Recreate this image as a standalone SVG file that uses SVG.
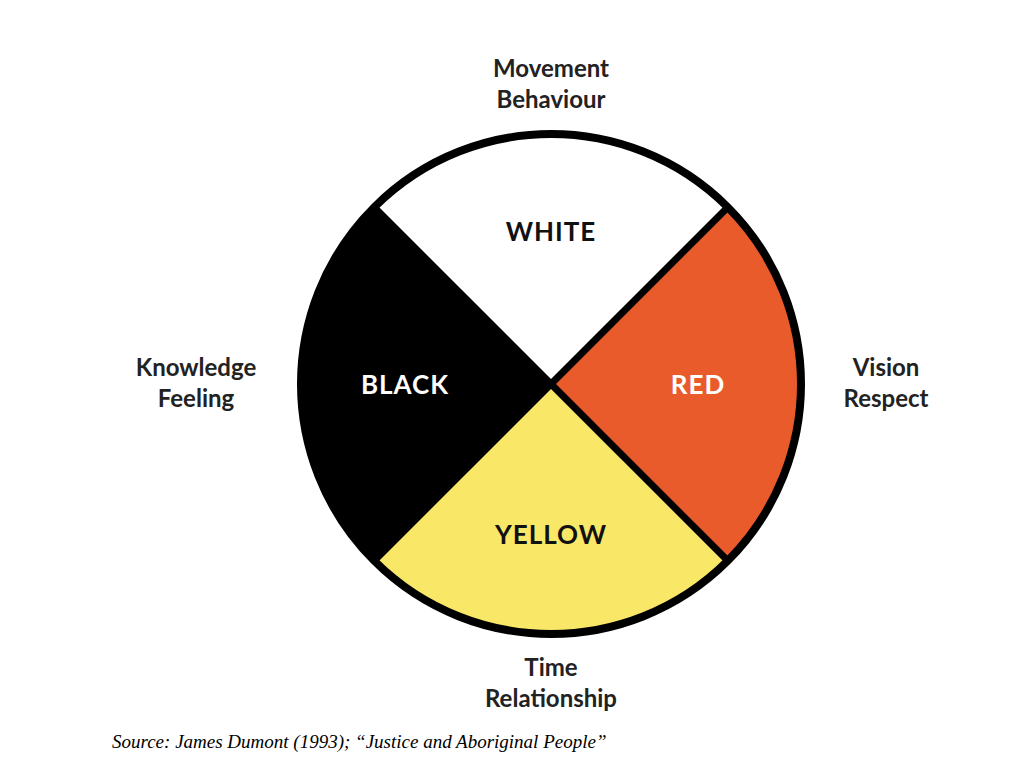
<svg xmlns="http://www.w3.org/2000/svg" width="1024" height="779" viewBox="0 0 1024 779">
<style>
.l{font-family:Lato,"Open Sans",sans-serif;font-weight:bold;font-size:24px;fill:#222;text-anchor:middle}
.q{font-family:Lato,"Open Sans",sans-serif;font-weight:bold;font-size:26px;text-anchor:middle;letter-spacing:1px}
.s{font-family:"Liberation Serif",serif;font-style:italic;font-size:19px;fill:#000}
</style>
<rect width="1024" height="779" fill="#fff"/>
<g id="wheel">
<g id="white"><path d="M551,384 L374.2,207.2 A250,250 0 0 1 727.8,207.2 Z" fill="#fff"/></g>
<g id="red"><path d="M551,384 L727.8,207.2 A250,250 0 0 1 727.8,560.8 Z" fill="#EA5B2C"/></g>
<g id="yellow"><path d="M551,384 L727.8,560.8 A250,250 0 0 1 374.2,560.8 Z" fill="#F9E768"/></g>
<g id="black"><path d="M551,384 L374.2,560.8 A250,250 0 0 1 374.2,207.2 Z" fill="#000"/></g>
<g id="lines" stroke="#000" stroke-width="7">
<line x1="374.2" y1="207.2" x2="727.8" y2="560.8"/>
<line x1="727.8" y1="207.2" x2="374.2" y2="560.8"/>
</g>
<circle cx="551" cy="384" r="250" fill="none" stroke="#000" stroke-width="8"/>
</g>
<text class="q" x="551" y="241" fill="#111">WHITE</text>
<text class="q" x="405" y="394" fill="#fff">BLACK</text>
<text class="q" x="698" y="394" fill="#fff">RED</text>
<text class="q" x="551" y="544" fill="#111">YELLOW</text>
<text class="l" x="551" y="77">Movement</text>
<text class="l" x="551" y="108">Behaviour</text>
<text class="l" x="196" y="376">Knowledge</text>
<text class="l" x="196" y="407">Feeling</text>
<text class="l" x="886" y="376">Vision</text>
<text class="l" x="886" y="407">Respect</text>
<text class="l" x="551" y="676">Time</text>
<text class="l" x="551" y="707">Relationship</text>
<text class="s" x="112" y="748">Source: James Dumont (1993); “Justice and Aboriginal People”</text>
</svg>
